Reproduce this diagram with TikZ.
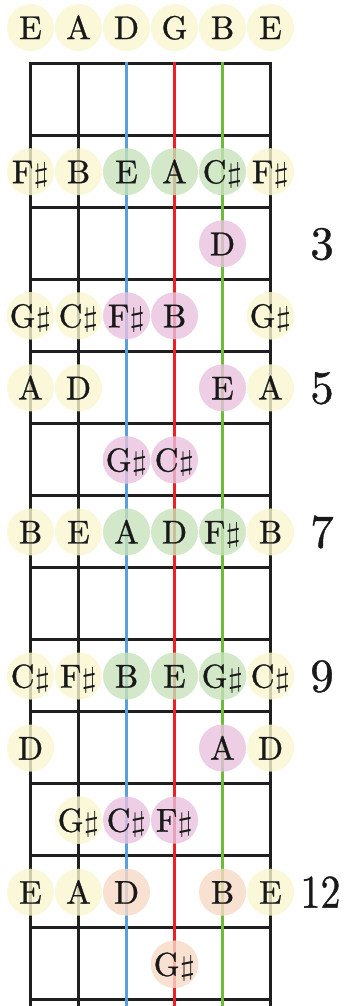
\RequirePackage{fix-cm}
\documentclass[tikz,border=0pt]{standalone}
\usepackage{fontspec}
\usepackage{graphicx}
\newfontfamily\notefont[FakeBold=0.9]{lmroman10-regular.otf}
\newcommand{\shp}{\raisebox{0.5pt}{\scalebox{1.25}[0.85]{$\sharp$}}}
\definecolor{noteY}{RGB}{249,246,206}
\definecolor{noteG}{RGB}{199,226,187}
\definecolor{noteP}{RGB}{232,194,221}
\definecolor{noteO}{RGB}{248,218,198}
\definecolor{strB}{RGB}{90,158,218}
\definecolor{strR}{RGB}{236,32,36}
\definecolor{strG}{RGB}{108,187,60}
\begin{document}
\begin{tikzpicture}[x=1pt,y=-1pt,
  fretline/.style={line width=3pt,black!88},
  blackstr/.style={line width=3pt,black!88},
  bluestr/.style={line width=2.5pt,strB},
  redstr/.style={line width=2.5pt,strR},
  greenstr/.style={line width=2.5pt,strG},
  note/.style={circle,minimum size=47pt,inner sep=0pt,fill opacity=0.8,text opacity=1,
    text height=23pt,text depth=0pt,font=\notefont\fontsize{33}{33}\selectfont,text=black!90},
  fretnum/.style={inner sep=0pt,text height=31pt,text depth=0pt,font=\notefont\fontsize{47}{47}\selectfont,text=black!90}]
\useasboundingbox (0,0) rectangle (343,1006);
% fret lines
\foreach \i in {0,...,13}{
  \coordinate (fl\i) at (30.5,63.5+72*\i);
  \coordinate (fr\i) at (270.5,63.5+72*\i);
  \draw[fretline] (fl\i) -- (fr\i);
}
% strings
\foreach \s/\st in {1/blackstr,2/blackstr,6/blackstr,3/bluestr,4/redstr,5/greenstr}{
  \coordinate (st\s) at (30.5+48*\s-48,62);
  \coordinate (sb\s) at (30.5+48*\s-48,1006);
  \draw[\st] (st\s) -- (sb\s);
}
% notes
\foreach \s/\f/\c/\t in {
  1/0/noteY/E,2/0/noteY/A,3/0/noteY/D,4/0/noteY/G,5/0/noteY/B,6/0/noteY/E,
  1/2/noteY/F\shp,2/2/noteY/B,3/2/noteG/E,4/2/noteG/A,5/2/noteG/C\shp,6/2/noteY/F\shp,
  5/3/noteP/D,
  1/4/noteY/G\shp,2/4/noteY/C\shp,3/4/noteP/F\shp,4/4/noteP/B,6/4/noteY/G\shp,
  1/5/noteY/A,2/5/noteY/D,5/5/noteP/E,6/5/noteY/A,
  3/6/noteP/G\shp,4/6/noteP/C\shp,
  1/7/noteY/B,2/7/noteY/E,3/7/noteG/A,4/7/noteG/D,5/7/noteG/F\shp,6/7/noteY/B,
  1/9/noteY/C\shp,2/9/noteY/F\shp,3/9/noteG/B,4/9/noteG/E,5/9/noteG/G\shp,6/9/noteY/C\shp,
  1/10/noteY/D,5/10/noteP/A,6/10/noteY/D,
  2/11/noteY/G\shp,3/11/noteP/C\shp,4/11/noteP/F\shp,
  1/12/noteY/E,2/12/noteY/A,3/12/noteO/D,5/12/noteO/B,6/12/noteY/E,
  4/13/noteO/G\shp}{
  \node[note,fill=\c] (n\s-\f) at (30.5+48*\s-48,27.6+72.05*\f) {\t};
}
% fret numbers
\foreach \f in {3,5,7,9}{
  \node[fretnum] (num\f) at (322,27.6+72.05*\f) {\f};
}
\node[fretnum] (num12) at (320.5,27.6+72.05*12) {\scalebox{0.85}[1]{12}};
\end{tikzpicture}
\end{document}
